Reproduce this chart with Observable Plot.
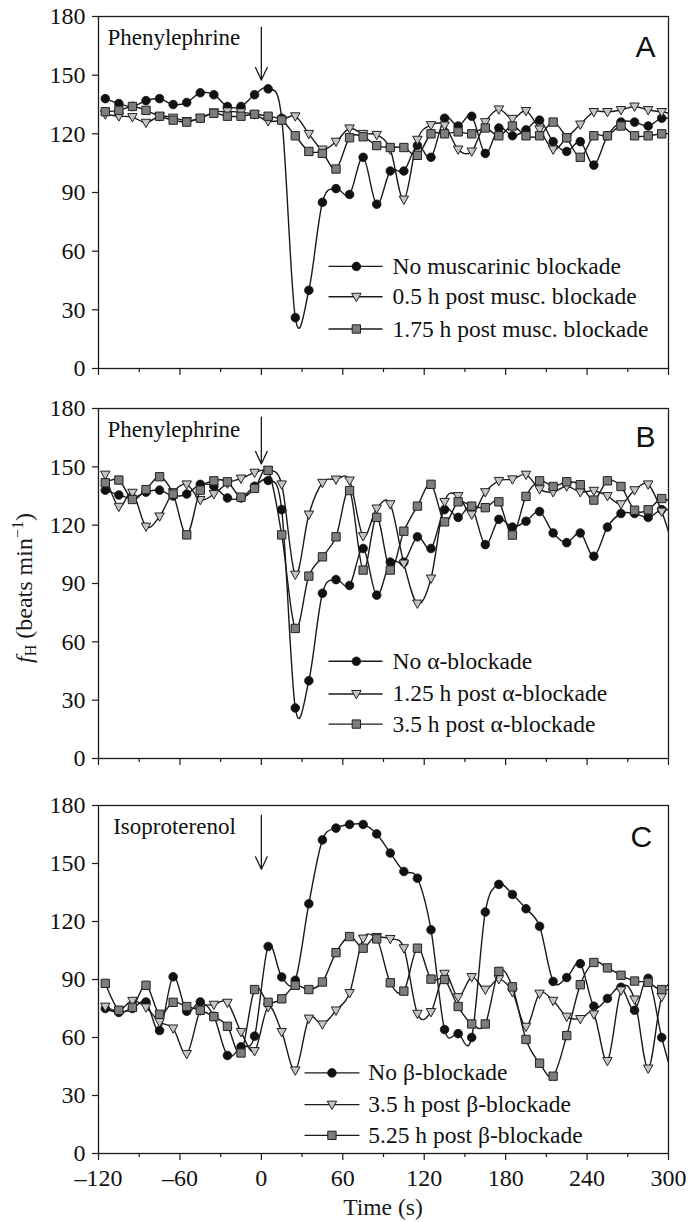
<!DOCTYPE html>
<html>
<head>
<meta charset="utf-8">
<script src="https://cdn.jsdelivr.net/npm/d3@7"></script>
<script src="https://cdn.jsdelivr.net/npm/@observablehq/plot@0.6"></script>
<style>
  html, body { margin: 0; padding: 0; background: #fff; }
  #wrap { position: relative; width: 688px; height: 1222px; overflow: hidden;
          font-family: "Liberation Serif", "Times New Roman", Times, serif; color: #1a1a1a; }
  .panel { position: absolute; left: 0; }
  #ylab { position: absolute; left: 24px; top: 588px; transform: translate(-50%, -50%) rotate(-90deg);
          white-space: nowrap; font-size: 24px; line-height: 1; }
  #ylab sub, #ylab sup { font-size: 16px; }
  #ylab sub { vertical-align: -4px; }
  #ylab sup { vertical-align: 9px; }
</style>
</head>
<body>
<div id="wrap">
  <div id="ylab"><i>f</i><sub>H</sub> (beats min<sup>&minus;1</sup>)</div>
</div>
<script>
// ---------------- DATA ----------------
const time = [-115,-105,-95,-85,-75,-65,-55,-45,-35,-25,-15,-5,5,15,25,35,45,55,65,75,85,95,105,115,125,135,145,155,165,175,185,195,205,215,225,235,245,255,265,275,285,295,305];

// Panel A / B control (no blockade, phenylephrine)
const noBlockadePhe = [138,135.5,134,137,138,135,136,141,140,134,134,140,143,128,26,40,85,92,89,108,84,101,101,114,108,128,124,129,110,123,119,122,127,116,111,116,104,119,126,126,124,128,127];
// Panel A
const muscHalfHour = [130,129,128.6,125.7,129,128.3,126.6,128,131,131.5,131,130,126.5,127,129,120,112,116,122.8,120,119.5,112,86.4,117,124.5,124.3,112,111,126,132.5,127.7,131.7,122.3,112,118,124.8,131.2,131.2,132.2,134,132.2,131.2,130];
const musc175Hour = [131.3,132,134,132,129,127,126,128,130.5,129,129,130,129,127,119,111,110,102,118,118.5,114,113,113,109,120,120,121,120,123,119,124,119,119,126,118,108,119,119,124,119,119,120,120];
// Panel B
const alpha125Hour = [146,129.5,136.7,119.3,124.5,137,141,133,136,141.5,144,147,148.3,141,94.6,125.5,141.8,143.5,143,114.4,128.6,130.8,100.3,79.7,92.6,132,135,125.5,137,142.8,143.6,146,138.5,137,140,137,137.7,135,130.8,138,141,127,105];
const alpha35Hour = [141.8,143.2,133.2,138.3,144.9,136,115,138,142.8,142.3,134.4,138.9,148.2,115,66.9,93.8,103.7,114,137.8,96.9,124,96.9,116.9,129.8,141,121.7,132,129.8,129,132,114.9,134.8,142.8,139.9,142.3,140.8,132.9,142.8,139.9,127.7,127.9,133.7,130];
// Panel C
const noBlockadeIso = [75,73,75,78.4,63.6,91.4,73.6,78.4,71,50.7,55.2,60.7,107.1,91.3,89.6,129.2,162.2,168.3,170.2,170.2,165.3,155.4,145.9,142.4,115.7,64.1,62,60,124.9,139.2,134,126.6,117.5,89,91,98.2,76.2,80.2,86,74.1,90.6,60,35];
const beta35Hour = [76,74,79,75.6,68,64.7,51.5,74,77,78,62.9,53,75.8,62.9,43,69.8,66.8,74,83,111.2,112,111,106.2,72.3,73.2,93,80.9,91.3,84.8,90.2,83.5,65.6,82.7,79,70.8,69.6,72,47.9,84.4,79.7,44,81,84];
const beta525Hour = [88,74.1,75.6,87,72,78.2,76,74.1,70.8,65.8,52,84.8,78.2,80,87,84.8,88.7,103.9,112.2,106.2,111,88.3,84,106.2,90.2,90,76,67,67,94.2,86.2,59,46.7,40,61,87.3,98.8,96,92.2,89.2,88.5,84.8,92];

// Legend labels
const labelsA = ["No muscarinic blockade", "0.5 h post musc. blockade", "1.75 h post musc. blockade"];
const labelsB = ["No \u03b1-blockade", "1.25 h post \u03b1-blockade", "3.5 h post \u03b1-blockade"];
const labelsC = ["No \u03b2-blockade", "3.5 h post \u03b2-blockade", "5.25 h post \u03b2-blockade"];

// Ticks
const yTicks = [0, 30, 60, 90, 120, 150, 180];
const xTicks = [-120, -60, 0, 60, 120, 180, 240, 300];
const xMinorTicks = [-90, -30, 30, 90, 150, 210, 270];

// Drug annotations
const drugA = "Phenylephrine", drugB = "Phenylephrine", drugC = "Isoproterenol";
const injectionTime = 0;

// ---------------- LAYOUT / STYLE ----------------
const SERIF = '"Liberation Serif","Times New Roman",Times,serif';
const SANS = '"Liberation Sans",Arial,Helvetica,sans-serif';
const INK = "#1a1a1a";

const triDown = {
  draw(ctx, size) {
    const r = Math.sqrt(size / Math.PI);
    const w = r * 1.1, top = r * 0.8, bot = r * 1.15;
    ctx.moveTo(-w, -top);
    ctx.lineTo(w, -top);
    ctx.lineTo(0, bot);
    ctx.closePath();
  }
};
const styles = [
  {symbol: "circle", r: 4.3, fill: "#111", stroke: "#111", strokeWidth: 0.8},
  {symbol: triDown, r: 4.3, fill: "#c4c4c4", stroke: "#222", strokeWidth: 1},
  {symbol: "square", r: 4.7, fill: "#7d7d7d", stroke: "#222", strokeWidth: 1}
];

const fmtX = d => d < 0 ? "\u2013" + Math.abs(d) : String(d);

function table(values) { return time.map((t, i) => ({t, v: values[i]})); }

function makePanel(cfg) {
  const marks = [];
  marks.push(Plot.axisY(yTicks, {label: null, tickSize: 6, tickPadding: 7, stroke: INK, strokeWidth: 1.2}));
  marks.push(Plot.axisX(xTicks, {label: null, tickSize: 7, tickPadding: 8, stroke: INK, strokeWidth: 1.2,
    tickFormat: cfg.showX ? fmtX : () => ""}));
  marks.push(Plot.axisX(xMinorTicks, {label: null, tickSize: 4, stroke: INK, strokeWidth: 1.2, tickFormat: () => ""}));

  cfg.series.forEach((vals, i) => {
    const data = table(vals);
    marks.push(Plot.line(data, {x: "t", y: "v", curve: "cardinal", tension: 0, stroke: INK, strokeWidth: 1.4, clip: true}));
    marks.push(Plot.dot(data, {x: "t", y: "v", ...styles[i], clip: true}));
  });

  // legend
  const L = cfg.legend;
  const rows = cfg.labels.map((label, i) => ({label, y: L.y[i], i}));
  marks.push(Plot.link(rows, {x1: L.x1, x2: L.x2, y1: "y", y2: "y", stroke: INK, strokeWidth: 1.4}));
  rows.forEach(r => marks.push(Plot.dot([r], {x: L.xm, y: "y", ...styles[r.i]})));
  marks.push(Plot.text(rows, {x: L.xt, y: "y", text: "label", textAnchor: "start", lineAnchor: "middle",
    fontSize: 23.5, fontFamily: SERIF, fill: "#111"}));

  // drug annotation + arrow
  marks.push(Plot.text([cfg.drug], {x: cfg.drugX, y: 169, text: d => d, textAnchor: "start", lineAnchor: "middle",
    fontSize: 23, fontFamily: SERIF, fill: "#111"}));
  marks.push(Plot.arrow([0], {x1: injectionTime, x2: injectionTime, y1: cfg.arrow[0], y2: cfg.arrow[1],
    stroke: INK, strokeWidth: 1.3, headLength: 16, headAngle: 50}));
  // panel letter
  marks.push(Plot.text([cfg.letter], {x: cfg.letterX, y: cfg.letterY, text: d => d, textAnchor: "middle", lineAnchor: "middle",
    fontSize: 30, fontFamily: SANS, fill: "#111"}));

  marks.push(Plot.frame({stroke: INK, strokeWidth: 1.3}));

  const svg = Plot.plot({
    width: 688,
    height: cfg.height,
    marginLeft: 98,
    marginRight: 20,
    marginTop: cfg.marginTop,
    marginBottom: cfg.marginBottom,
    x: {domain: [-120, 300], label: null},
    y: {domain: [0, 180], label: null},
    style: {fontFamily: SERIF, fontSize: "24px", color: "#111", background: "transparent", overflow: "visible"},
    marks
  });
  svg.classList.add("panel");
  svg.style.top = cfg.top + "px";
  return svg;
}

const wrap = document.getElementById("wrap");
wrap.appendChild(makePanel({
  top: 0, height: 392, marginTop: 16, marginBottom: 24, showX: false,
  series: [noBlockadePhe, muscHalfHour, musc175Hour], labels: labelsA,
  legend: {y: [52.2, 36.7, 20.2], x1: 49.5, x2: 89.3, xm: 70, xt: 96.7},
  drug: drugA, drugX: -113.4, arrow: [174.4, 147.5], letter: "A", letterX: 283, letterY: 164
}));
wrap.appendChild(makePanel({
  top: 392, height: 390, marginTop: 16, marginBottom: 24, showX: false,
  series: [noBlockadePhe, alpha125Hour, alpha35Hour], labels: labelsB,
  legend: {y: [50, 33.2, 17.7], x1: 49.5, x2: 89.3, xm: 70, xt: 96.7},
  drug: drugB, drugX: -113.4, arrow: [175.5, 151.5], letter: "B", letterX: 283, letterY: 165
}));
wrap.appendChild(makePanel({
  top: 782, height: 440, marginTop: 23, marginBottom: 69, showX: true,
  series: [noBlockadeIso, beta35Hour, beta525Hour], labels: labelsC,
  legend: {y: [41.7, 25.3, 9.4], x1: 31.8, x2: 72.3, xm: 52, xt: 78.8},
  drug: drugC, drugX: -109.2, arrow: [175, 147], letter: "C", letterX: 280, letterY: 163.5
}));

// x-axis title
const xt = document.createElement("div");
xt.textContent = "Time (s)";
xt.style.cssText = "position:absolute;left:383px;top:1219px;transform:translate(-50%,-100%);font-size:23.5px;line-height:1;white-space:nowrap;";
wrap.appendChild(xt);
</script>
</body>
</html>
